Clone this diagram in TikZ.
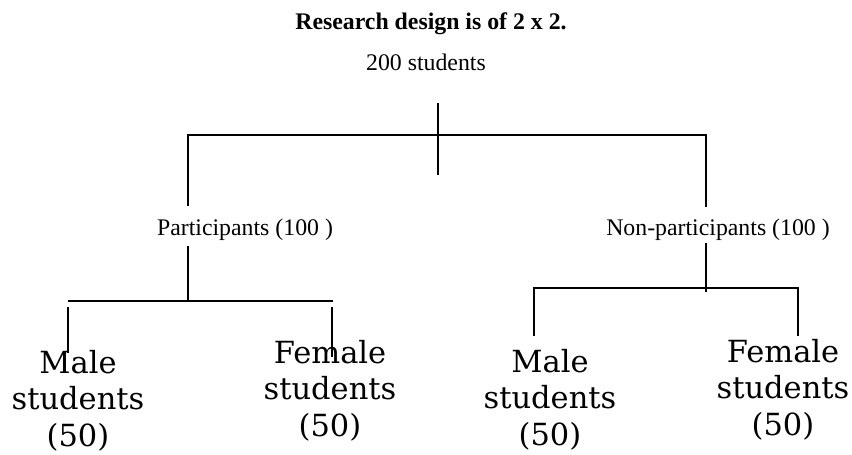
\documentclass[tikz,border=0pt]{standalone}
\usepackage{fontspec}
\setmainfont{Liberation Serif}
\newfontfamily\leaffont{DejaVu Serif}

\begin{document}
\begin{tikzpicture}[
  x=1pt, y=-1pt,
  txt/.style={font=\fontsize{23.8}{28}\selectfont, inner sep=0pt, anchor=base},
  leaf/.style={font=\leaffont\fontsize{30.5}{36.5}\selectfont, align=center,
               inner sep=0pt, anchor=base},
  link/.style={line width=1.6pt}
]
  \useasboundingbox (0,0) rectangle (852,455);

  % headings
  \node[txt, font=\bfseries\fontsize{23.8}{28}\selectfont] (title) at (431,29) {Research design is of 2 x 2.};
  \node[txt] (all) at (426,70) {200 students};

  % groups
  \node[txt] (part) at (245,235) {Participants (100 )};
  \node[txt] (nonpart) at (718,235) {Non-participants (100 )};

  % leaves (anchored on the last line)
  \node[leaf] (pmale) at (78,446) {Male\\students\\(50)};
  \node[leaf] (pfemale) at (330,436) {Female\\students\\(50)};
  \node[leaf] (nmale) at (550,445) {Male\\students\\(50)};
  \node[leaf] (nfemale) at (783,435) {Female\\students\\(50)};

  % junction points
  \coordinate (allTop) at (438,103);
  \coordinate (allBot) at (438,175);
  \coordinate (splitL) at (188,135);
  \coordinate (splitR) at (706,135);
  \coordinate (partIn) at (188,206);
  \coordinate (nonIn) at (706,207);
  \coordinate (partOut) at (188,246);
  \coordinate (partBar) at (188,301);
  \coordinate (pBarL) at (68,301);
  \coordinate (pBarR) at (333,301);
  \coordinate (pmaleTop) at (68,307);
  \coordinate (pfemaleTop) at (332,307);
  \coordinate (pmaleIn) at (68,353);
  \coordinate (pfemaleIn) at (332,357);
  \coordinate (nonOut) at (706,243);
  \coordinate (nonBar) at (706,292);
  \coordinate (nBarL) at (534,288);
  \coordinate (nBarR) at (798,288);
  \coordinate (nmaleIn) at (534,336);
  \coordinate (nfemaleIn) at (798,336);

  % connectors
  \draw[link] (allTop) -- (allBot);
  \draw[link] (partIn) -- (splitL) -- (splitR) -- (nonIn);
  \draw[link] (partOut) -- (partBar);
  \draw[link] (pBarL) -- (pBarR);
  \draw[link] (pmaleTop) -- (pmaleIn);
  \draw[link] (pfemaleTop) -- (pfemaleIn);
  \draw[link] (nonOut) -- (nonBar);
  \draw[link] (nmaleIn) -- (nBarL) -- (nBarR) -- (nfemaleIn);
\end{tikzpicture}
\end{document}
